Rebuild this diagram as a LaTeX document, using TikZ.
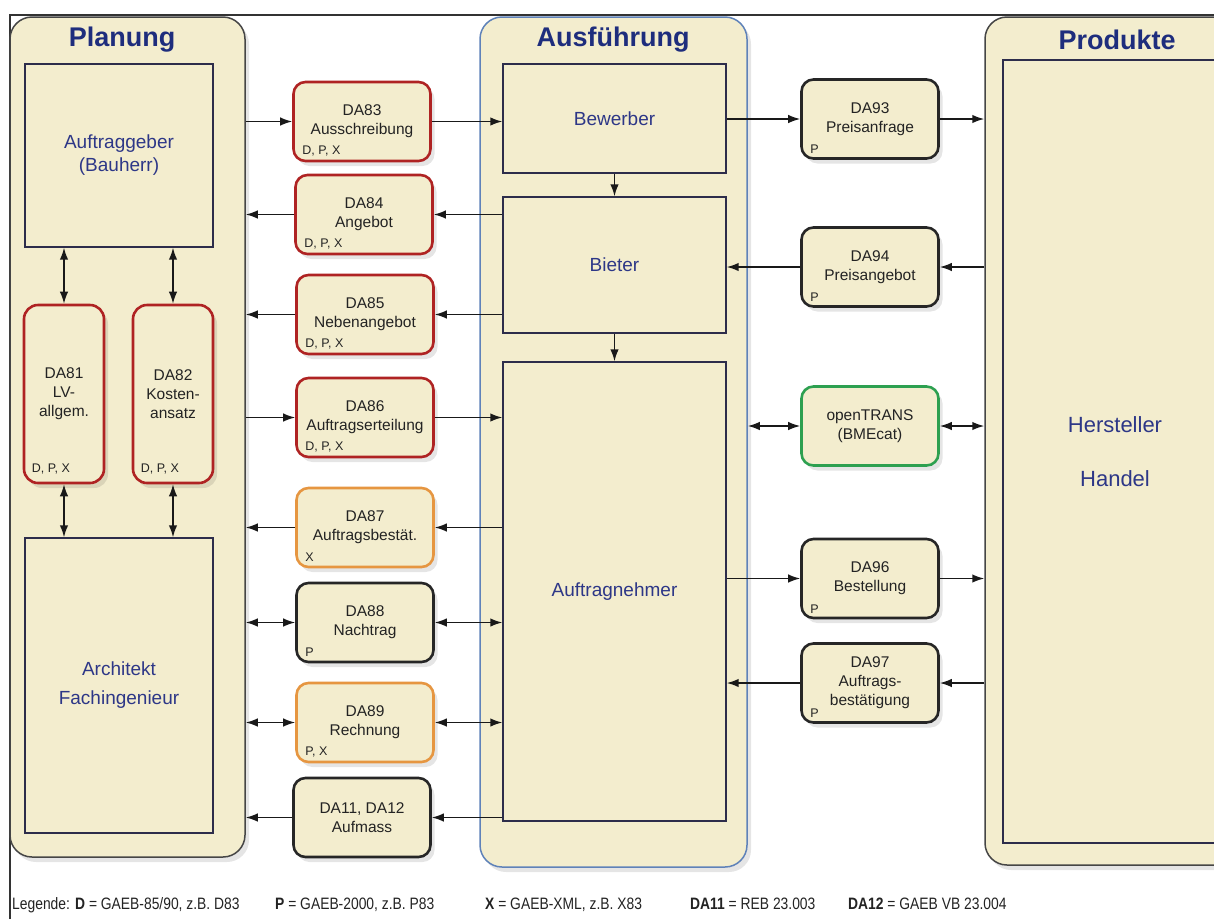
\documentclass[tikz,border=0pt]{standalone}
\usepackage{fontspec}
\setmainfont{Liberation Sans}
\newfontfamily\legfont{Liberation Sans}[FakeStretch=0.84]
\usetikzlibrary{arrows.meta,shadows}
\definecolor{beige}{RGB}{243,237,206}
\definecolor{titleblue}{RGB}{30,45,125}
\definecolor{txtblue}{RGB}{45,55,135}
\definecolor{dared}{RGB}{175,35,35}
\definecolor{daorange}{RGB}{230,150,65}
\definecolor{dagreen}{RGB}{45,160,80}
\definecolor{ausblue}{RGB}{95,130,185}
\definecolor{panelgray}{RGB}{70,70,70}
\definecolor{innerline}{RGB}{45,45,75}
\definecolor{txtdark}{RGB}{35,35,35}
\tikzset{
  softshadow/.style={drop shadow={shadow xshift=4pt, shadow yshift=-5pt, opacity=0.10, fill=black}},
  panel/.style={draw=panelgray, line width=1.5pt, fill=beige, rounded corners=22pt, inner sep=0pt, softshadow},
  innerbox/.style={draw=innerline, line width=1.4pt, fill=beige, inner sep=0pt, align=center,
    text=txtblue, font=\fontsize{19}{23}\selectfont},
  dabox/.style={rounded corners=12pt, fill=beige, line width=2.6pt, minimum width=137pt,
    minimum height=79pt, inner sep=0pt, align=center, text=txtdark,
    font=\fontsize{15.5}{19}\selectfont, softshadow},
  redbox/.style={dabox, draw=dared},
  orangebox/.style={dabox, draw=daorange},
  blackbox/.style={dabox, draw=black!85},
  greenbox/.style={dabox, draw=dagreen},
  fmt/.style={font=\fontsize{12.5}{12.5}\selectfont, text=txtdark, inner sep=0pt, anchor=base west},
  paneltitle/.style={font=\bfseries\fontsize{27}{30}\selectfont, text=titleblue, inner sep=0pt},
  conn/.style={line width=1.5pt, draw=black!90, -{Latex[length=12pt,width=8.5pt]}},
  both/.style={line width=1.5pt, draw=black!90, {Latex[length=12pt,width=8.5pt]}-{Latex[length=12pt,width=8.5pt]}},
  leg/.style={font=\legfont\fontsize{16.5}{18}\selectfont, text=txtdark, inner sep=0pt, anchor=base west},
}
\begin{document}
\begin{tikzpicture}[x=1pt,y=-1pt]
\clip (0,0) rectangle (1214,919);
\fill[white] (0,0) rectangle (1214,919);
% frame lines
\draw[line width=1.2pt, black!80] (10,919) -- (10,15) -- (1214,15);

% panels
\node[panel, minimum width=235pt, minimum height=840pt] (planung) at (127.5,437) {};
\node[panel, draw=ausblue, minimum width=267pt, minimum height=850pt] (ausf) at (613.5,442) {};
\node[panel, minimum width=260pt, minimum height=848pt] (prod) at (1115,441) {};
\node[paneltitle] (tplan) at (122,40) {Planung};
\node[paneltitle] (tausf) at (613,40) {Ausführung};
\node[paneltitle] (tprod) at (1117,40) {Produkte};

% inner boxes
\node[innerbox, minimum width=188pt, minimum height=183pt] (ag) at (119,155.5) {Auftraggeber\\(Bauherr)};
\node[innerbox, minimum width=188pt, minimum height=295pt] (arch) at (119,685.5) {Architekt\\[6pt]Fachingenieur};
\node[innerbox, minimum width=223pt, minimum height=109pt] (bewerber) at (614.5,118.5) {Bewerber};
\node[innerbox, minimum width=223pt, minimum height=136pt] (bieter) at (614.5,265) {Bieter};
\node[innerbox, minimum width=223pt, minimum height=459pt] (an) at (614.5,591.5) {Auftragnehmer};
\node[innerbox, minimum width=224pt, minimum height=783pt, font=\fontsize{22}{24}\selectfont] (hh) at (1115,451.5) {Hersteller\\[30pt]Handel};

% DA81 / DA82
\node[redbox, minimum width=80pt, minimum height=178pt, rounded corners=14pt] (da81) at (64,394) {DA81\\LV-\\allgem.};
\node[redbox, minimum width=80pt, minimum height=178pt, rounded corners=14pt] (da82) at (173,394) {DA82\\Kosten-\\ansatz};
\node[fmt] (f81) at ([shift={(9,-12)}]da81.south west) {D, P, X};
\node[fmt] (f82) at ([shift={(9,-12)}]da82.south west) {D, P, X};

% middle column
\node[redbox] (da83) at (362,121.5) {DA83\\Ausschreibung};
\node[redbox] (da84) at (364,214.5) {DA84\\Angebot};
\node[redbox] (da85) at (365,314.5) {DA85\\Nebenangebot};
\node[redbox] (da86) at (365,417.5) {DA86\\Auftragserteilung};
\node[orangebox] (da87) at (365,527.5) {DA87\\Auftragsbestät.};
\node[blackbox] (da88) at (365,622.5) {DA88\\Nachtrag};
\node[orangebox] (da89) at (365,722.5) {DA89\\Rechnung};
\node[blackbox] (da11) at (362,817.5) {DA11, DA12\\Aufmass};
\node[fmt] (f83) at ([shift={(10,-8)}]da83.south west) {D, P, X};
\node[fmt] (f84) at ([shift={(10,-8)}]da84.south west) {D, P, X};
\node[fmt] (f85) at ([shift={(10,-8)}]da85.south west) {D, P, X};
\node[fmt] (f86) at ([shift={(10,-8)}]da86.south west) {D, P, X};
\node[fmt] (f87) at ([shift={(10,-7)}]da87.south west) {X};
\node[fmt] (f88) at ([shift={(10,-7)}]da88.south west) {P};
\node[fmt] (f89) at ([shift={(10,-8)}]da89.south west) {P, X};

% right column
\node[blackbox] (da93) at (870,119) {DA93\\Preisanfrage};
\node[blackbox] (da94) at (870,267) {DA94\\Preisangebot};
\node[greenbox] (ot) at (870,426) {openTRANS\\(BMEcat)};
\node[blackbox] (da96) at (870,578.5) {DA96\\Bestellung};
\node[blackbox] (da97) at (870,683) {DA97\\Auftrags-\\bestätigung};
\node[fmt] (f93) at ([shift={(10,-6)}]da93.south west) {P};
\node[fmt] (f94) at ([shift={(10,-6)}]da94.south west) {P};
\node[fmt] (f96) at ([shift={(10,-6)}]da96.south west) {P};
\node[fmt] (f97) at ([shift={(10,-6)}]da97.south west) {P};

% vertical connectors
\draw[conn] (bewerber.south) -- (bieter.north);
\draw[conn] (bieter.south) -- (an.north);
\draw[both] (ag.south -| da81.north) -- (da81.north);
\draw[both] (ag.south -| da82.north) -- (da82.north);
\draw[both] (da81.south) -- (da81.south |- arch.north);
\draw[both] (da82.south) -- (da82.south |- arch.north);

% middle connectors
\draw[conn] (da83.west -| planung.east) -- (da83.west);
\draw[conn] (da83.east) -- (da83.east -| bewerber.west);
\draw[conn] (da84.east -| bieter.west) -- (da84.east);
\draw[conn] (da84.west) -- (da84.west -| planung.east);
\draw[conn] (da85.east -| bieter.west) -- (da85.east);
\draw[conn] (da85.west) -- (da85.west -| planung.east);
\draw[conn] (da86.west -| planung.east) -- (da86.west);
\draw[conn] (da86.east) -- (da86.east -| an.west);
\draw[conn] (da87.east -| an.west) -- (da87.east);
\draw[conn] (da87.west) -- (da87.west -| planung.east);
\draw[both] (da88.west -| planung.east) -- (da88.west);
\draw[both] (da88.east) -- (da88.east -| an.west);
\draw[both] (da89.west -| planung.east) -- (da89.west);
\draw[both] (da89.east) -- (da89.east -| an.west);
\draw[conn] (da11.east -| an.west) -- (da11.east);
\draw[conn] (da11.west) -- (da11.west -| planung.east);

% right connectors
\draw[conn] (da93.west -| bewerber.east) -- (da93.west);
\draw[conn] (da93.east) -- (da93.east -| prod.west);
\draw[conn] (da94.east -| prod.west) -- (da94.east);
\draw[conn] (da94.west) -- (da94.west -| bieter.east);
\draw[both] (ot.west -| ausf.east) -- (ot.west);
\draw[both] (ot.east) -- (ot.east -| prod.west);
\draw[conn] (da96.west -| an.east) -- (da96.west);
\draw[conn] (da96.east) -- (da96.east -| prod.west);
\draw[conn] (da97.east -| prod.west) -- (da97.east);
\draw[conn] (da97.west) -- (da97.west -| an.east);

% legend
\node[leg] (l1) at (12,909) {Legende: \textbf{D} = GAEB-85/90, z.B. D83};
\node[leg] (l2) at (275,909) {\textbf{P} = GAEB-2000, z.B. P83};
\node[leg] (l3) at (485,909) {\textbf{X} = GAEB-XML, z.B. X83};
\node[leg] (l4) at (690,909) {\textbf{DA11} = REB 23.003};
\node[leg] (l5) at (848,909) {\textbf{DA12} = GAEB VB 23.004};
\end{tikzpicture}
\end{document}
